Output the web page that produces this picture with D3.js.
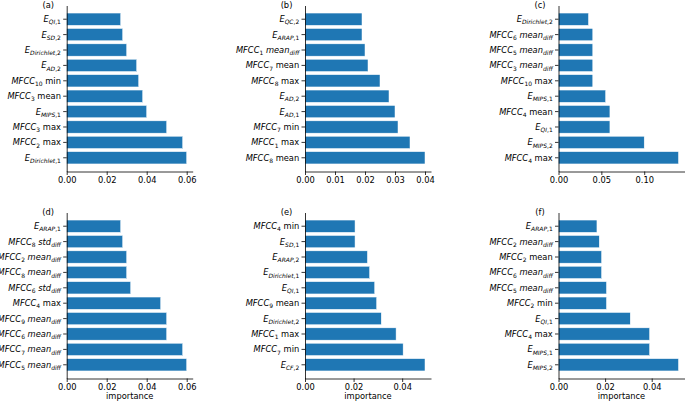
<!DOCTYPE html>
<html>
<head>
<meta charset="utf-8">
<script src="https://cdn.jsdelivr.net/npm/d3@7"></script>
<style>
  html, body { margin: 0; padding: 0; background: #fff; }
  svg { display: block; font-family: "DejaVu Sans", sans-serif; }
  text { white-space: pre; }
</style>
</head>
<body>
<svg id="chart" width="685" height="401"></svg>
<script>
// ---- data (top-to-bottom order as shown) ----
const titles = ["(a)", "(b)", "(c)", "(d)", "(e)", "(f)"];
const xLabel = "importance";

const labelsA = ["$E_{QI,1}$", "$E_{SD,2}$", "$E_{Dirichlet,2}$", "$E_{AD,2}$", "$MFCC_{10}$ min", "$MFCC_{3}$ mean", "$E_{MIPS,1}$", "$MFCC_{3}$ max", "$MFCC_{2}$ max", "$E_{Dirichlet,1}$"];
const valuesA = [0.027, 0.028, 0.030, 0.035, 0.036, 0.038, 0.040, 0.050, 0.058, 0.060];

const labelsB = ["$E_{QC,2}$", "$E_{ARAP,1}$", "$MFCC_{1}$ $mean_{diff}$", "$MFCC_{7}$ mean", "$MFCC_{8}$ max", "$E_{AD,2}$", "$E_{AD,1}$", "$MFCC_{7}$ min", "$MFCC_{1}$ max", "$MFCC_{8}$ mean"];
const valuesB = [0.019, 0.019, 0.020, 0.021, 0.025, 0.028, 0.030, 0.031, 0.035, 0.040];

const labelsC = ["$E_{Dirichlet,2}$", "$MFCC_{6}$ $mean_{diff}$", "$MFCC_{5}$ $mean_{diff}$", "$MFCC_{3}$ $mean_{diff}$", "$MFCC_{10}$ max", "$E_{MIPS,1}$", "$MFCC_{4}$ mean", "$E_{QI,1}$", "$E_{MIPS,2}$", "$MFCC_{4}$ max"];
const valuesC = [0.035, 0.040, 0.040, 0.040, 0.040, 0.055, 0.060, 0.060, 0.100, 0.140];

const labelsD = ["$E_{ARAP,1}$", "$MFCC_{8}$ $std_{diff}$", "$MFCC_{2}$ $mean_{diff}$", "$MFCC_{8}$ $mean_{diff}$", "$MFCC_{6}$ $std_{diff}$", "$MFCC_{4}$ max", "$MFCC_{9}$ $mean_{diff}$", "$MFCC_{6}$ $mean_{diff}$", "$MFCC_{7}$ $mean_{diff}$", "$MFCC_{5}$ $mean_{diff}$"];
const valuesD = [0.027, 0.028, 0.030, 0.030, 0.032, 0.047, 0.050, 0.050, 0.058, 0.060];

const labelsE = ["$MFCC_{4}$ min", "$E_{SD,1}$", "$E_{ARAP,2}$", "$E_{Dirichlet,1}$", "$E_{QI,1}$", "$MFCC_{9}$ mean", "$E_{Dirichlet,2}$", "$MFCC_{1}$ max", "$MFCC_{7}$ min", "$E_{CF,2}$"];
const valuesE = [0.0206, 0.0206, 0.0257, 0.0266, 0.0287, 0.0295, 0.0314, 0.0375, 0.0404, 0.0494];

const labelsF = ["$E_{ARAP,1}$", "$MFCC_{2}$ $mean_{diff}$", "$MFCC_{2}$ mean", "$MFCC_{6}$ $mean_{diff}$", "$MFCC_{5}$ $mean_{diff}$", "$MFCC_{2}$ min", "$E_{QI,1}$", "$MFCC_{4}$ max", "$E_{MIPS,1}$", "$E_{MIPS,2}$"];
const valuesF = [0.0165, 0.0175, 0.0185, 0.0185, 0.0206, 0.0206, 0.0308, 0.0391, 0.0391, 0.0515];

const ticksA = [0, 0.02, 0.04, 0.06];
const ticksB = [0, 0.01, 0.02, 0.03, 0.04];
const ticksC = [0, 0.05, 0.10];
const ticksD = [0, 0.02, 0.04, 0.06];
const ticksE = [0, 0.02, 0.04];
const ticksF = [0, 0.02, 0.04];

// ---- layout ----
const colLeft = [66.7, 305, 558.5];
const rowTop = [5.5, 212.5];
const axW = 126, axH = 166;
const barColor = "#1f77b4";
const fs = 8.3;

const panels = [
  {labels: labelsA, values: valuesA, ticks: ticksA},
  {labels: labelsB, values: valuesB, ticks: ticksB},
  {labels: labelsC, values: valuesC, ticks: ticksC},
  {labels: labelsD, values: valuesD, ticks: ticksD},
  {labels: labelsE, values: valuesE, ticks: ticksE},
  {labels: labelsF, values: valuesF, ticks: ticksF}
];

// parse "$E_{QI,1}$" style labels into runs
function parseLabel(s) {
  const runs = [];
  const parts = s.split("$");
  parts.forEach((p, i) => {
    if (!p) return;
    if (i % 2 === 0) { runs.push({t: p, it: false, sub: false}); return; }
    const re = /([^_]+)|_\{([^}]*)\}/g;
    let m;
    while ((m = re.exec(p)) !== null) {
      const txt = m[1] !== undefined ? m[1] : m[2];
      const sub = m[1] === undefined;
      const pieces = txt.match(/[A-Za-z]+|[^A-Za-z]+/g) || [];
      pieces.forEach(pc => runs.push({t: pc, it: /[A-Za-z]/.test(pc), sub: sub}));
    }
  });
  return runs;
}

function renderRich(textSel, s) {
  textSel.text(null);
  const runs = parseLabel(s);
  let inSub = false;
  const shift = 2.2;
  runs.forEach(r => {
    const ts = textSel.append("tspan").text(r.t)
      .attr("font-style", r.it ? "italic" : "normal")
      .attr("font-size", r.sub ? fs * 0.72 : fs);
    if (r.sub && !inSub) ts.attr("dy", shift);
    if (!r.sub && inSub) ts.attr("dy", -shift);
    inSub = r.sub;
  });
}

const svg = d3.select("#chart");

panels.forEach((p, k) => {
  const col = k % 3, row = Math.floor(k / 3);
  const left = colLeft[col], top = rowTop[row];
  const g = svg.append("g").attr("transform", `translate(${left},${top})`);

  const maxV = d3.max(p.values);
  const x = d3.scaleLinear().domain([0, maxV * 1.05]).range([0, axW]);
  const y = d3.scaleBand().domain(p.labels).range([0, axH])
    .paddingInner(0.2).paddingOuter(0.49);

  g.selectAll("rect.bar").data(p.labels).join("rect")
    .attr("class", "bar")
    .attr("x", x(0))
    .attr("y", d => y(d))
    .attr("width", (d, i) => x(p.values[i]) - x(0))
    .attr("height", y.bandwidth())
    .attr("fill", barColor)
    .attr("stroke", "#ffffff")
    .attr("stroke-width", 0.5);

  // y axis
  const ya = g.append("g").call(d3.axisLeft(y).tickSize(3.5).tickPadding(2.3).tickSizeOuter(0));
  ya.selectAll("text").each(function(d) {
    const t = d3.select(this);
    t.attr("font-size", fs).attr("fill", "#000").attr("dy", "0.35em").attr("font-family", "DejaVu Sans");
    renderRich(t, d);
  });

  // x axis
  const xa = g.append("g").attr("transform", `translate(0,${axH})`)
    .call(d3.axisBottom(x).tickValues(p.ticks).tickFormat(d3.format(".2f"))
      .tickSize(3.5).tickPadding(2.3).tickSizeOuter(0));
  xa.selectAll("text").attr("font-size", fs).attr("fill", "#000").attr("font-family", "DejaVu Sans");

  [ya, xa].forEach(a => {
    a.select(".domain").attr("stroke", "#000").attr("stroke-width", 0.8);
    a.selectAll(".tick line").attr("stroke", "#000").attr("stroke-width", 0.8);
  });

  // panel title
  g.append("text").attr("x", -18.5).attr("y", 2)
    .attr("text-anchor", "middle").attr("font-size", fs).attr("fill", "#000")
    .text(titles[k]);

  if (row === 1) {
    g.append("text").attr("x", axW / 2).attr("y", axH + 20.5)
      .attr("text-anchor", "middle").attr("font-size", fs).attr("fill", "#000")
      .text(xLabel);
  }
});
</script>
</body>
</html>
